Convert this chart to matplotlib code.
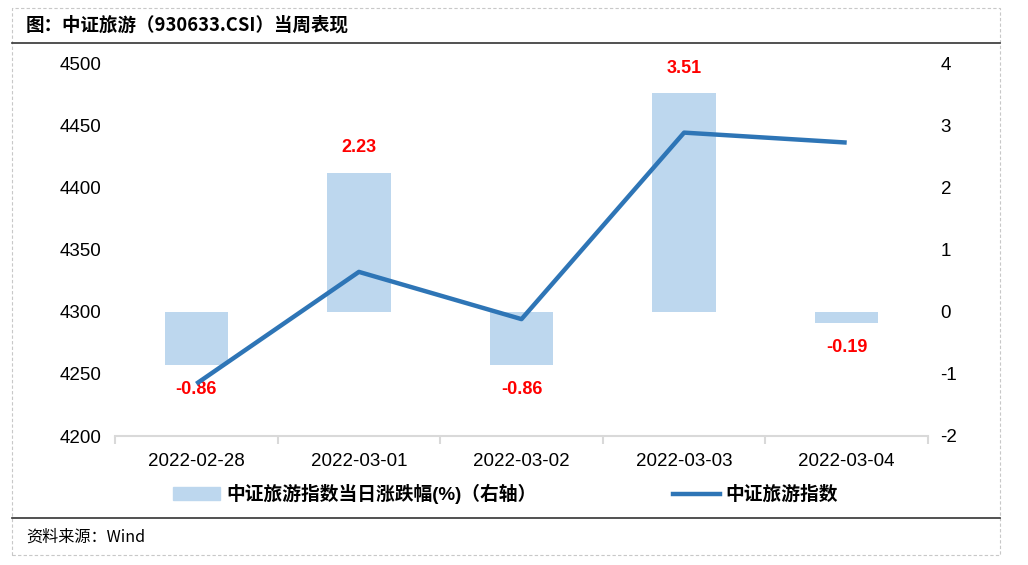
import matplotlib.pyplot as plt
from matplotlib.patches import Rectangle
from matplotlib.lines import Line2D

plt.rcParams['font.family'] = ['Liberation Sans', 'Noto Sans CJK SC']
plt.rcParams['axes.unicode_minus'] = False

# Data
dates = ["2022-02-28", "2022-03-01", "2022-03-02", "2022-03-03", "2022-03-04"]
pct_change = [-0.86, 2.23, -0.86, 3.51, -0.19]
index_close = [4242, 4332, 4294, 4444, 4436]

W, H = 1028, 565
fig = plt.figure(figsize=(W / 100, H / 100), dpi=100)

# Axes area in pixels
x0, x1 = 115, 928
y_top, y_bot = 63, 436
ax = fig.add_axes([x0 / W, 1 - y_bot / H, (x1 - x0) / W, (y_bot - y_top) / H])
ax2 = ax.twinx()

x = list(range(len(dates)))

# Bars on right axis
ax2.bar(x, pct_change, width=0.39, color="#BDD7EE", zorder=1)
ax2.set_ylim(-2, 4)
ax2.set_yticks([-2, -1, 0, 1, 2, 3, 4])
for xi, v in zip(x, pct_change):
    off = 0.27 if v > 0 else -0.25
    ax2.text(xi, v + off, f"{v:.2f}", color="red", fontsize=13, fontweight="bold",
             ha="center", va="bottom" if v > 0 else "top", zorder=5)

# Line on left axis
ax.plot(x, index_close, color="#2E75B6", linewidth=3.2, solid_capstyle="butt", zorder=3)
ax.set_ylim(4200, 4500)
ax.set_yticks(range(4200, 4501, 50))
ax.set_xlim(-0.5, len(dates) - 0.5)
ax.set_xticks(x)
ax.set_xticklabels(dates)
ax.set_xticks([i - 0.5 for i in range(len(dates) + 1)], minor=True)

# draw line above bars
ax.set_zorder(ax2.get_zorder() + 1)
ax.patch.set_visible(False)

for a in (ax, ax2):
    for s in ("top", "left", "right"):
        a.spines[s].set_visible(False)
    a.tick_params(axis="y", length=0, labelsize=13.5, colors="black")
ax.tick_params(axis="y", pad=10)
ax2.spines["bottom"].set_visible(False)
ax2.tick_params(axis="y", pad=9)
ax.spines["bottom"].set_color("#D9D9D9")
ax.spines["bottom"].set_linewidth(1.5)
ax.tick_params(axis="x", which="major", length=0, labelsize=13.5, pad=12)
ax.tick_params(axis="x", which="minor", length=6, color="#D9D9D9", width=1.5)

# Legend
handles = [Rectangle((0, 0), 1, 1, color="#BDD7EE"),
           Line2D([], [], color="#2E75B6", linewidth=3.2)]
labels = ["中证旅游指数当日涨跌幅(%)（右轴）", "中证旅游指数"]
fig.legend(handles, labels, loc="center", bbox_to_anchor=(0.492, 1 - 494 / H), ncol=2,
           frameon=False, prop={"weight": "bold", "size": 13.5},
           columnspacing=7.3, handlelength=2.5, handletextpad=0.3)

# Frame, title and source
fig.add_artist(Rectangle((12 / W, 1 - 555 / H), 988 / W, 547 / H, transform=fig.transFigure,
                         fill=False, edgecolor="#C8C8C8", linestyle=(0, (3, 2)), linewidth=0.8))
fig.add_artist(Line2D([12 / W, 1000 / W], [1 - 43 / H] * 2, color="#333333", linewidth=1.2))
fig.add_artist(Line2D([12 / W, 1000 / W], [1 - 518 / H] * 2, color="#333333", linewidth=1.2))
fig.text(26 / W, 1 - 25 / H, "图：中证旅游（930633.CSI）当周表现", fontsize=13.3,
         fontweight="bold", va="center", ha="left", family=["Noto Sans CJK SC"])
fig.text(26 / W, 1 - 537 / H, "资料来源：Wind", fontsize=11.6, va="center", ha="left",
         family=["Noto Sans CJK SC"])

fig.savefig("out.png", dpi=100)
